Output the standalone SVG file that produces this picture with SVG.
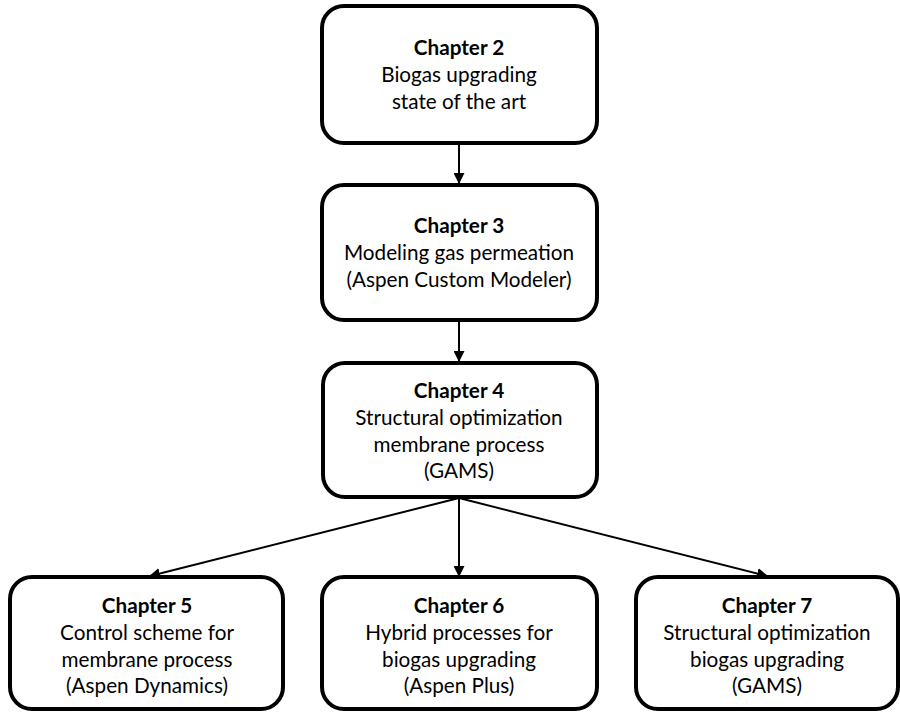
<svg xmlns="http://www.w3.org/2000/svg" width="900" height="713" viewBox="0 0 900 713">
<style>
.box{fill:#fff;stroke:#000;stroke-width:4}
.t{font-family:Lato,"Open Sans","Liberation Sans",sans-serif;font-size:20.7px;text-anchor:middle;fill:#000}
.b{font-weight:bold}
.c{stroke:#000;stroke-width:2;fill:none;marker-end:url(#ah)}
</style>
<defs>
<marker id="ah" markerWidth="11" markerHeight="11" refX="10" refY="5.5" orient="auto" markerUnits="userSpaceOnUse">
<path d="M0,0 L11,5.5 L0,11 Z" fill="#000"/>
</marker>
</defs>
<g id="connectors">
<line class="c" x1="459" y1="145" x2="459" y2="183"/>
<line class="c" x1="459" y1="322" x2="459" y2="361"/>
<line class="c" x1="459" y1="498" x2="150" y2="576"/>
<line class="c" x1="459" y1="498" x2="459" y2="576"/>
<line class="c" x1="459" y1="498" x2="767" y2="576"/>
</g>
<g id="ch2">
<rect class="box" x="322" y="6" width="275" height="137" rx="22"/>
<text class="t b" x="459" y="55">Chapter 2</text>
<text class="t" x="459" y="82">Biogas upgrading</text>
<text class="t" x="459" y="109">state of the art</text>
</g>
<g id="ch3">
<rect class="box" x="322" y="185" width="275" height="135" rx="22"/>
<text class="t b" x="459" y="233">Chapter 3</text>
<text class="t" x="459" y="260">Modeling gas permeation</text>
<text class="t" x="459" y="287">(Aspen Custom Modeler)</text>
</g>
<g id="ch4">
<rect class="box" x="323" y="363" width="274" height="134" rx="22"/>
<text class="t b" x="459" y="398">Chapter 4</text>
<text class="t" x="459" y="425">Structural optimization</text>
<text class="t" x="459" y="452">membrane process</text>
<text class="t" x="459" y="478">(GAMS)</text>
</g>
<g id="ch5">
<rect class="box" x="10" y="577" width="273" height="132" rx="22"/>
<text class="t b" x="147" y="613">Chapter 5</text>
<text class="t" x="147" y="640">Control scheme for</text>
<text class="t" x="147" y="667">membrane process</text>
<text class="t" x="147" y="693">(Aspen Dynamics)</text>
</g>
<g id="ch6">
<rect class="box" x="322" y="577" width="275" height="132" rx="22"/>
<text class="t b" x="459" y="613">Chapter 6</text>
<text class="t" x="459" y="640">Hybrid processes for</text>
<text class="t" x="459" y="667">biogas upgrading</text>
<text class="t" x="459" y="693">(Aspen Plus)</text>
</g>
<g id="ch7">
<rect class="box" x="636" y="577" width="262" height="132" rx="22"/>
<text class="t b" x="767" y="613">Chapter 7</text>
<text class="t" x="767" y="640">Structural optimization</text>
<text class="t" x="767" y="667">biogas upgrading</text>
<text class="t" x="767" y="693">(GAMS)</text>
</g>
</svg>
